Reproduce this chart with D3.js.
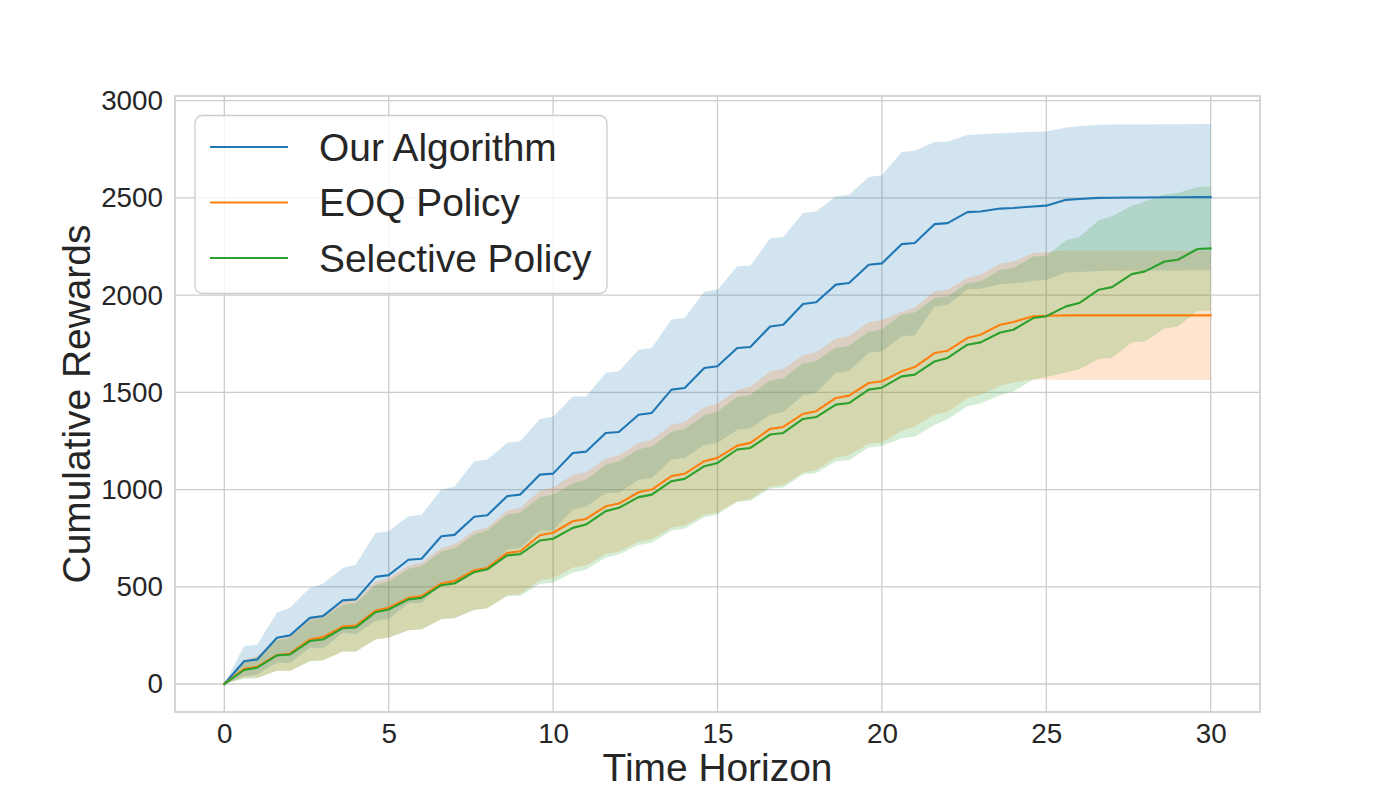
<!DOCTYPE html>
<html>
<head>
<meta charset="utf-8">
<script src="https://cdn.jsdelivr.net/npm/d3@7"></script>
<style>
  html, body { margin: 0; padding: 0; background: #ffffff; }
  svg { display: block; }
  text { font-family: "Liberation Sans", Arial, Helvetica, sans-serif; fill: #262626; }
</style>
</head>
<body>
<svg id="chart" width="1400" height="800"></svg>
<script>
// ---------------- DATA ----------------
const timeSteps = [0, 0.6, 1, 1.6, 2, 2.6, 3, 3.6, 4, 4.6, 5, 5.6, 6, 6.6, 7, 7.6, 8, 8.6, 9, 9.6, 10,
  10.6, 11, 11.6, 12, 12.6, 13, 13.6, 14, 14.6, 15, 15.6, 16, 16.6, 17, 17.6, 18, 18.6, 19, 19.6, 20,
  20.6, 21, 21.6, 22, 22.6, 23, 23.6, 24, 24.6, 25, 25.6, 26, 26.6, 27, 27.6, 28, 28.6, 29, 29.6, 30];

const ourMean = [0, 117, 126, 238, 250, 340, 349, 430, 435, 551, 560, 639, 644, 760, 767, 860, 868, 966, 974, 1077, 1082,
  1188, 1195, 1291, 1296, 1385, 1394, 1514, 1522, 1625, 1634, 1728, 1733, 1839, 1848, 1954, 1963, 2054, 2062, 2156, 2163,
  2262, 2268, 2365, 2370, 2427, 2430, 2445, 2448, 2456, 2460, 2490, 2494, 2500, 2501, 2502, 2502, 2503, 2503, 2504, 2504];
const ourSd = [0, 78, 77, 128, 142, 154, 167, 167, 179, 226, 226, 224, 227, 240, 247, 286, 286, 274, 274, 286, 293,
  291, 283, 309, 312, 334, 334, 360, 360, 394, 394, 420, 418, 454, 451, 468, 467, 453, 454, 451, 453,
  474, 475, 423, 420, 397, 397, 388, 387, 384, 382, 372, 375, 376, 376, 376, 376, 376, 376, 376, 376];

const eoqMean = [0, 78, 89, 149, 157, 229, 241, 295, 300, 378, 392, 443, 452, 517, 529, 585, 597, 674, 683, 765, 778,
  837, 849, 914, 928, 986, 1000, 1069, 1081, 1146, 1163, 1226, 1240, 1312, 1322, 1389, 1403, 1471, 1483, 1548, 1557,
  1608, 1630, 1702, 1714, 1779, 1796, 1848, 1862, 1891, 1894, 1896, 1896, 1896, 1896, 1896, 1896, 1896, 1896, 1896, 1896];
const eoqSd = [0, 45, 55, 82, 90, 110, 118, 128, 133, 148, 153, 166, 171, 183, 188, 203, 208, 218, 222, 230, 234,
  238, 240, 246, 248, 254, 256, 264, 266, 276, 280, 286, 289, 296, 298, 302, 303, 306, 307, 312, 315,
  306, 306, 316, 314, 309, 309, 313, 311, 325, 328, 332, 332, 332, 332, 332, 332, 332, 332, 332, 332];

const selMean = [0, 72, 84, 147, 152, 221, 229, 287, 291, 369, 383, 435, 443, 508, 517, 575, 590, 661, 668, 738, 747,
  803, 820, 889, 906, 961, 974, 1043, 1055, 1120, 1137, 1206, 1214, 1283, 1291, 1363, 1373, 1437, 1445, 1514, 1524,
  1582, 1591, 1659, 1677, 1745, 1757, 1808, 1822, 1882, 1891, 1942, 1959, 2028, 2041, 2108, 2122, 2173, 2182, 2237, 2240];
const selSd = [0, 45, 55, 78, 85, 105, 110, 120, 125, 140, 145, 158, 163, 175, 180, 195, 200, 210, 214, 222, 226,
  230, 232, 238, 240, 246, 248, 254, 256, 262, 265, 270, 272, 278, 280, 286, 288, 292, 294, 298, 300,
  318, 320, 326, 316, 317, 314, 323, 317, 317, 312, 340, 340, 357, 364, 352, 360, 345, 343, 319, 319];

const seriesNames = ["Our Algorithm", "EOQ Policy", "Selective Policy"];
const seriesColors = ["#1f77b4", "#ff7f0e", "#2ca02c"];
const xTicks = [0, 5, 10, 15, 20, 25, 30];
const yTicks = [0, 500, 1000, 1500, 2000, 2500, 3000];
const xLabel = "Time Horizon";
const yLabel = "Cumulative Rewards";

// ---------------- LAYOUT ----------------
const W = 1400, H = 800;
const plot = { left: 175, right: 1260, top: 96, bottom: 712 };
const tickFont = 27.8, labelFont = 38.9, legendFont = 38.9;

const series = seriesNames.map((name, i) => ({
  name,
  color: seriesColors[i],
  mean: [ourMean, eoqMean, selMean][i],
  sd: [ourSd, eoqSd, selSd][i]
}));

// matplotlib-like 5% margins
const tExt = d3.extent(timeSteps);
const tPad = (tExt[1] - tExt[0]) * 0.05;
const allLo = series.flatMap(s => s.mean.map((m, j) => m - s.sd[j]));
const allHi = series.flatMap(s => s.mean.map((m, j) => m + s.sd[j]));
const vMin = Math.min(0, d3.min(allLo)), vMax = d3.max(allHi);
const vPad = (vMax - vMin) * 0.05;

const x = d3.scaleLinear().domain([tExt[0] - tPad, tExt[1] + tPad]).range([plot.left, plot.right]);
const y = d3.scaleLinear().domain([vMin - vPad, vMax + vPad]).range([plot.bottom, plot.top]);

const svg = d3.select("#chart");
svg.append("rect").attr("width", W).attr("height", H).attr("fill", "#ffffff");

svg.append("defs").append("clipPath").attr("id", "clip")
  .append("rect").attr("x", plot.left).attr("y", plot.top)
  .attr("width", plot.right - plot.left).attr("height", plot.bottom - plot.top);

// grid
const grid = svg.append("g");
grid.selectAll("line.gx").data(xTicks).join("line")
  .attr("x1", d => x(d)).attr("x2", d => x(d))
  .attr("y1", plot.top).attr("y2", plot.bottom)
  .attr("stroke", "#cccccc").attr("stroke-width", 1.3);
grid.selectAll("line.gy").data(yTicks).join("line")
  .attr("x1", plot.left).attr("x2", plot.right)
  .attr("y1", d => y(d)).attr("y2", d => y(d))
  .attr("stroke", "#cccccc").attr("stroke-width", 1.3);

// bands
const dataG = svg.append("g").attr("clip-path", "url(#clip)");
series.forEach(s => {
  const pts = timeSteps.map((t, j) => ({ t, m: s.mean[j], sd: s.sd[j] }));
  const area = d3.area()
    .x(d => x(d.t))
    .y0(d => y(d.m - d.sd))
    .y1(d => y(d.m + d.sd))
    .curve(d3.curveLinear);
  dataG.append("path").datum(pts).attr("d", area)
    .attr("fill", s.color).attr("fill-opacity", 0.2).attr("stroke", "none");
});
// lines
series.forEach(s => {
  const pts = timeSteps.map((t, j) => ({ t, m: s.mean[j] }));
  const line = d3.line().x(d => x(d.t)).y(d => y(d.m)).curve(d3.curveLinear);
  dataG.append("path").datum(pts).attr("d", line)
    .attr("fill", "none").attr("stroke", s.color).attr("stroke-width", 2.1)
    .attr("stroke-linejoin", "round").attr("stroke-linecap", "square");
});

// spines
svg.append("rect").attr("x", plot.left).attr("y", plot.top)
  .attr("width", plot.right - plot.left).attr("height", plot.bottom - plot.top)
  .attr("fill", "none").attr("stroke", "#cccccc").attr("stroke-width", 1.6);

// axes
const xAxis = svg.append("g").attr("transform", `translate(0,${plot.bottom})`)
  .call(d3.axisBottom(x).tickValues(xTicks).tickSize(0).tickPadding(11).tickFormat(d3.format("d")));
const yAxis = svg.append("g").attr("transform", `translate(${plot.left},0)`)
  .call(d3.axisLeft(y).tickValues(yTicks).tickSize(0).tickPadding(12).tickFormat(d3.format("d")));
[xAxis, yAxis].forEach(a => {
  a.select(".domain").remove();
  a.selectAll("text").attr("font-size", tickFont)
    .attr("font-family", "'Liberation Sans', Arial, sans-serif").attr("fill", "#262626");
});

// axis labels
svg.append("text").attr("x", (plot.left + plot.right) / 2).attr("y", 781)
  .attr("text-anchor", "middle").attr("font-size", labelFont).text(xLabel);
svg.append("text")
  .attr("transform", `translate(89.5,${(plot.top + plot.bottom) / 2}) rotate(-90)`)
  .attr("text-anchor", "middle").attr("font-size", labelFont).text(yLabel);

// legend
const lg = svg.append("g");
lg.append("rect").attr("x", 195).attr("y", 115.5).attr("width", 412).attr("height", 178)
  .attr("rx", 7.5).attr("ry", 7.5)
  .attr("fill", "#ffffff").attr("fill-opacity", 0.8)
  .attr("stroke", "#cccccc").attr("stroke-width", 1.3);
const rowY = d3.scalePoint().domain(seriesNames).range([147, 258]);
series.forEach(s => {
  const yy = rowY(s.name);
  lg.append("line").attr("x1", 210).attr("x2", 288).attr("y1", yy).attr("y2", yy)
    .attr("stroke", s.color).attr("stroke-width", 2.1);
  lg.append("text").attr("x", 319).attr("y", yy + 13.5)
    .attr("font-size", legendFont).text(s.name);
});
</script>
</body>
</html>
